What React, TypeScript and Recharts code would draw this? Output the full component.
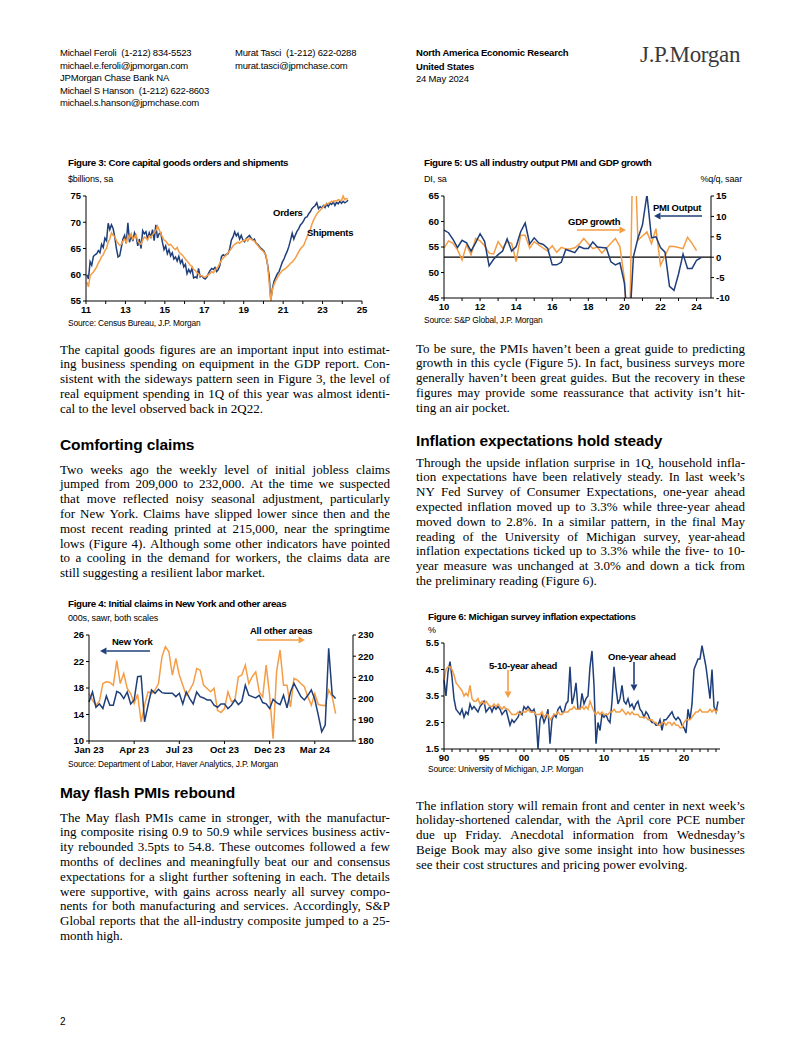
import React from "react";
import { LineChart, Line, XAxis, YAxis, ReferenceLine } from "recharts";

const BLUE = "#1f3f7a";
const ORANGE = "#f59d45";
const SANS = "'Liberation Sans', Arial, sans-serif";
const SERIF = "'Liberation Serif', 'Times New Roman', serif";

// ---- Figure 3: core capital goods, monthly from Jan 2011 ($bn) ----
const orders = [
  60.0, 59.2, 62.5, 61.8, 63.5, 63.8, 64.0, 64.6, 64.2, 65.8, 65.2, 67.0, // 2011
  66.5, 69.8, 68.6, 69.5, 68.8, 67.2, 65.0, 63.4, 63.6, 65.2, 66.8, 67.5, // 2012
  66.0, 69.9, 66.2, 67.5, 66.4, 68.0, 67.3, 65.5, 66.8, 65.0, 68.4, 67.8, // 2013
  68.2, 66.8, 68.0, 67.2, 68.6, 66.5, 69.5, 67.0, 67.8, 68.0, 66.2, 64.8, // 2014
  65.5, 64.0, 64.8, 63.6, 64.2, 63.0, 63.4, 62.6, 63.5, 62.2, 62.8, 61.5, // 2015
  62.0, 60.2, 61.0, 60.4, 61.2, 59.4, 59.6, 59.4, 61.2, 59.6, 59.8, 59.4, // 2016
  59.2, 59.5, 60.2, 60.8, 61.2, 61.0, 61.4, 60.6, 61.0, 61.8, 63.5, 63.8, // 2017
  63.6, 63.9, 64.0, 65.0, 66.6, 67.2, 68.2, 67.4, 67.9, 66.8, 67.5, 66.6, // 2018
  66.3, 66.9, 67.2, 67.5, 67.0, 66.6, 66.8, 66.0, 65.8, 65.4, 65.0, 64.8, // 2019
  64.4, 63.6, 62.0, 59.8, 55.2, 57.4, 58.8, 59.5, 60.2, 60.6, 61.5, 62.4, // 2020
  63.0, 63.8, 64.5, 65.4, 66.6, 67.9, 66.8, 67.6, 68.3, 68.8, 69.5, 69.8, // 2021
  70.3, 70.9, 71.0, 71.6, 72.0, 72.6, 72.9, 73.2, 73.7, 72.6, 73.0, 72.7, // 2022
  73.2, 72.8, 73.5, 73.0, 73.6, 73.4, 73.9, 73.2, 73.8, 73.5, 74.0, 73.6, // 2023
  74.0, 73.7, 73.9, 74.2, // 2024
];
const shipments = [
  58.6, 57.7, 59.8, 60.2, 60.5, 61.0, 61.5, 62.2, 62.8, 63.5, 63.8, 64.6,
  65.0, 66.2, 66.8, 68.0, 67.5, 67.3, 66.5, 66.0, 65.6, 65.8, 66.4, 66.8,
  66.2, 67.5, 67.0, 67.8, 66.8, 67.2, 67.6, 66.4, 66.0, 65.8, 66.6, 67.2,
  67.0, 66.6, 67.4, 67.2, 67.6, 68.0, 68.4, 69.3, 68.6, 67.8, 67.2, 66.6,
  66.4, 66.0, 65.6, 65.8, 65.4, 65.0, 64.8, 65.2, 64.4, 64.0, 63.8, 63.4,
  63.0, 62.6, 62.2, 61.8, 61.6, 61.0, 60.8, 60.4, 60.2, 59.8, 59.8, 59.6,
  59.5, 59.8, 60.0, 60.2, 60.6, 60.4, 60.8, 61.2, 61.6, 62.2, 62.8, 63.2,
  63.5, 63.8, 64.2, 64.6, 65.0, 65.5, 65.8, 66.0, 66.2, 66.0, 66.3, 66.5,
  66.5, 66.8, 66.4, 67.0, 66.8, 66.6, 66.4, 66.0, 65.6, 65.2, 64.8, 64.6,
  64.2, 63.8, 62.0, 58.5, 55.0, 57.2, 58.2, 58.9, 59.5, 60.0, 60.4, 60.8,
  61.0, 61.2, 61.5, 61.8, 62.2, 62.4, 62.8, 63.2, 63.8, 64.4, 64.9, 65.3,
  65.6, 66.4, 67.2, 68.0, 68.6, 69.6, 70.4, 71.0, 71.6, 72.0, 72.3, 72.6,
  73.0, 73.3, 73.5, 73.6, 73.8, 74.0, 73.9, 74.1, 74.0, 74.3, 74.2, 74.1,
  75.0, 74.3, 74.5, 74.4,
];
const capTicks = [2011, 2012, 2013, 2014, 2015, 2016, 2017, 2018, 2019, 2020, 2021, 2022, 2023, 2024, 2025];

// ---- Figure 5: PMI output (DI) and GDP growth (%q/q saar), quarterly from 2010Q1 ----
const pmi = [
  58.3, 57.8, 56.5, 54.9, // 2010
  56.3, 55.8, 54.2, 55.8, // 2011
  57.6, 56.1, 51.3, 52.6, // 2012
  53.5, 54.2, 56.6, 54.2, // 2013
  55.1, 58.0, 59.7, 55.6, // 2014
  56.8, 55.8, 55.5, 54.7, // 2015
  51.5, 51.5, 52.0, 54.5, // 2016
  54.2, 53.9, 55.1, 54.7, // 2017
  54.7, 56.0, 55.0, 54.9, // 2018
  54.8, 52.1, 51.5, 51.9, // 2019
  47.9, 37.3, 53.1, 56.7, // 2020
  59.3, 65.3, 56.8, 57.0, // 2021
  54.9, 54.0, 47.3, 46.5, // 2022
  49.7, 53.6, 50.8, 50.8, // 2023
  52.4, 52.9, // 2024
];
const gdp = [
  2.2, 4.0, 3.4, 1.8,
  -0.7, 3.0, 0.6, 4.6,
  4.0, 2.8, 1.0, 0.8,
  3.8, 2.2, 3.8, 3.4,
  -1.1, 5.4, 5.4, 2.2,
  3.8, 3.0, 2.2, 1.5,
  2.8, 1.2, 2.4, 2.0,
  2.0, 2.3, 3.2, 4.6,
  3.3, 2.1, 2.5, 1.0,
  2.2, 3.4, 4.6, 2.6,
  -5.3, -28.0, 34.8, 4.2,
  5.2, 6.2, 3.3, 7.0,
  -2.0, 0.3, 2.7, 2.6,
  2.4, 2.1, 4.9, 3.4,
  1.6,
];
const pmiTicks = [2010, 2011, 2012, 2013, 2014, 2015, 2016, 2017, 2018, 2019, 2020, 2021, 2022, 2023, 2024];

// ---- Figure 4: initial claims, weekly from early Jan 2023 (000s) ----
const newYork = [
  15.9, 17.4, 15.1, 15.6, 14.9, 16.8, 15.4, 15.4, 17.5, 17.2,
  16.4, 17.4, 15.6, 16.2, 19.7, 19.8, 12.9, 15.4, 17.7, 17.2,
  17.8, 17.3, 17.2, 17.2, 17.2, 16.7, 17.2, 15.6, 17.4, 16.4,
  15.6, 17.4, 16.7, 16.5, 16.2, 16.2, 15.4, 15.1, 15.6, 15.6,
  14.9, 15.4, 16.2, 15.5, 16.0, 18.4, 16.9, 16.7, 16.5, 16.9,
  15.8, 15.6, 14.9, 16.3, 15.8, 15.5, 16.9, 15.0, 17.4, 18.7,
  17.7, 16.7, 16.2, 16.9, 17.7, 16.3, 13.9, 11.4, 12.4, 24.0,
  17.0, 16.4,
];
const otherAreas = [
  202.4, 199.2, 196.9, 198.8, 207.1, 207.9, 207.6, 206.3, 217.9, 207.1,
  211.9, 204.8, 202.4, 197.7, 202.0, 189.0, 196.9, 203.2, 202.4, 204.0,
  207.1, 219.7, 224.5, 222.1, 211.1, 219.0, 211.1, 206.3, 201.6, 204.0,
  207.1, 214.2, 213.4, 206.3, 204.8, 203.2, 204.8, 194.5, 193.4, 195.3,
  203.2, 198.5, 199.2, 210.3, 211.1, 215.8, 207.1, 210.3, 212.6, 203.2,
  200.8, 215.8, 201.6, 181.1, 212.6, 222.9, 206.3, 206.3, 196.1, 209.5,
  208.7, 207.1, 205.6, 200.8, 196.9, 202.4, 197.2, 196.9, 196.6, 204.0,
  201.0, 192.9,
];
const claimTicks = [0, 13, 26, 39, 52, 65];
const claimTickLabels = ["Jan 23", "Apr 23", "Jul 23", "Oct 23", "Dec 23", "Mar 24"];

// ---- Figure 6: Michigan inflation expectations (%), quarterly from 1990Q1 ----
const oneYear = [
  4.1, 3.5, 4.4, 4.8, 4.2, 3.4, 3.0, 2.9, 2.8, 3.0, 2.7, 2.9, // 90-92
  2.8, 3.2, 3.0, 3.1, 3.0, 2.9, 3.1, 3.2, 3.3, 2.9, 3.0, 3.1, // 93-95
  2.9, 3.1, 3.0, 3.1, 3.0, 2.8, 2.9, 3.0, 2.7, 2.4, 2.6, 2.5, // 96-98
  2.6, 2.7, 2.9, 2.8, 3.1, 3.0, 3.1, 3.0, 2.9, 3.0, 2.7, 1.5, // 99-01
  2.6, 2.8, 2.5, 2.7, 3.0, 1.7, 2.6, 2.8, 2.7, 3.0, 3.1, 2.9, // 02-04
  2.9, 3.2, 3.3, 4.6, 3.2, 3.5, 4.0, 3.0, 3.0, 3.6, 3.2, 3.4, // 05-07
  3.5, 4.6, 5.2, 3.9, 1.7, 2.5, 2.2, 2.8, 2.7, 2.8, 2.6, 2.5, // 08-10
  3.3, 4.6, 3.8, 3.2, 3.4, 3.9, 3.3, 3.2, 3.4, 3.1, 3.2, 3.0, // 11-13
  3.2, 3.3, 3.0, 2.9, 2.7, 2.9, 2.8, 2.6, 2.5, 2.5, 2.4, 2.4, // 14-16
  2.6, 2.2, 2.6, 2.6, 2.7, 2.8, 2.9, 2.7, 2.6, 2.7, 2.6, 2.4, // 17-19
  2.3, 2.1, 3.0, 2.6, 3.2, 4.5, 4.7, 4.9, 4.9, 5.4, 5.0, 4.6, // 20-22
  4.0, 3.4, 4.5, 3.1, 2.9, 3.3, // 23-24
];
const fiveTenYear = [
  4.1, 4.5, 4.6, 4.6, 4.5, 4.3, 4.0, 3.9, 3.8, 3.7, 3.5, 3.6,
  3.5, 3.9, 3.4, 3.3, 3.3, 3.4, 3.2, 3.3, 3.2, 3.3, 3.2, 3.1,
  3.1, 3.2, 3.1, 3.2, 3.1, 3.0, 3.1, 3.0, 3.0, 2.9, 2.8, 2.8,
  2.8, 2.9, 2.8, 2.9, 2.9, 2.9, 3.0, 2.9, 2.9, 2.9, 2.8, 2.8,
  2.8, 2.9, 2.7, 2.8, 2.8, 2.6, 2.7, 2.8, 2.8, 2.9, 2.8, 2.8,
  2.9, 2.9, 2.9, 3.0, 3.0, 3.1, 3.0, 3.0, 3.0, 3.1, 3.0, 3.1,
  3.0, 3.3, 3.1, 2.9, 2.8, 2.9, 2.8, 2.9, 2.8, 2.8, 2.8, 2.9,
  2.9, 3.0, 2.9, 2.9, 2.9, 3.0, 2.9, 2.8, 2.9, 2.8, 2.9, 2.8,
  2.8, 2.8, 2.7, 2.7, 2.7, 2.7, 2.6, 2.6, 2.6, 2.5, 2.5, 2.4,
  2.4, 2.5, 2.5, 2.4, 2.5, 2.5, 2.4, 2.5, 2.4, 2.4, 2.3, 2.3,
  2.5, 2.6, 2.6, 2.6, 2.7, 2.8, 2.9, 2.9, 3.0, 2.9, 2.9, 2.9,
  2.9, 3.0, 2.9, 3.0, 2.9, 3.0,
];
const michTicks = Array.from({ length: 35 }, (_, i) => 1990 + i);

const capData = orders.map((v, i) => ({ x: 2011 + (i + 0.5) / 12, orders: v, shipments: shipments[i] }));
const pmiData = pmi.map((v, i) => ({ x: 2010 + i / 4, pmi: v, gdp: gdp[i] }));
const claimData = newYork.map((v, i) => ({ w: i, ny: v, other: otherAreas[i] }));
const michData = oneYear.map((v, i) => ({ x: 1990 + i / 4, one: v, five: fiveTenYear[i] }));

const tick = { fill: "#000", fontSize: 9.5, fontWeight: 700, fontFamily: SANS };
const LH = 14.8;

function T({ x, y, size = 9.5, bold = false, ls = -0.2, right = false, color = "#000", font = SANS, children }: any) {
  return (
    <div
      style={{
        position: "absolute",
        left: x,
        top: y - size * 0.6,
        fontSize: size,
        lineHeight: `${size * 1.2}px`,
        fontWeight: bold ? 700 : 400,
        fontFamily: font,
        letterSpacing: ls,
        whiteSpace: "pre",
        color,
        transform: right ? "translateX(-100%)" : undefined,
      }}
    >
      {children}
    </div>
  );
}

function Para({ x, y, w, lines }: { x: number; y: number; w: number; lines: string[] }) {
  return (
    <div style={{ position: "absolute", left: x, top: y - LH / 2, width: w, fontFamily: SERIF, fontSize: 13, lineHeight: `${LH}px`, color: "#000" }}>
      {lines.map((ln, i) =>
        i < lines.length - 1 ? (
          <div key={i} style={{ display: "flex", justifyContent: "space-between", whiteSpace: "nowrap" }}>
            {ln.split(" ").map((wd, j) => (
              <span key={j}>{wd}</span>
            ))}
          </div>
        ) : (
          <div key={i} style={{ whiteSpace: "nowrap" }}>{ln}</div>
        )
      )}
    </div>
  );
}

function Heading({ x, y, children }: any) {
  return <T x={x} y={y} size={15.5} bold ls={-0.1}>{children}</T>;
}

function Arrow({ x1, y1, x2, y2, color }: any) {
  const a = Math.atan2(y2 - y1, x2 - x1);
  const L = 6.5;
  const W = 3.5;
  const bx = x2 - L * Math.cos(a);
  const by = y2 - L * Math.sin(a);
  const pts = `${x2},${y2} ${bx - W * Math.sin(a)},${by + W * Math.cos(a)} ${bx + W * Math.sin(a)},${by - W * Math.cos(a)}`;
  return (
    <g>
      <line x1={x1} y1={y1} x2={bx} y2={by} stroke={color} strokeWidth={1.6} />
      <polygon points={pts} fill={color} />
    </g>
  );
}

const FigTitle = ({ x, y, children }: any) => <T x={x} y={y} size={9.8} bold ls={-0.35}>{children}</T>;
const Sub = ({ x, y, right, children }: any) => <T x={x} y={y} size={9} ls={-0.15} right={right}>{children}</T>;
const Src = ({ x, y, children }: any) => <T x={x} y={y} size={8.4} ls={-0.15}>{children}</T>;
const Note = ({ x, y, children }: any) => <T x={x} y={y} size={9.5} bold ls={-0.25}>{children}</T>;

export default function App() {
  return (
    <div style={{ position: "absolute", left: 0, top: 0, width: 802, height: 1037, background: "#fff", overflow: "hidden" }}>
      {/* header */}
      <T x={60} y={53}>{"Michael Feroli  (1-212) 834-5523"}</T>
      <T x={60} y={66}>michael.e.feroli@jpmorgan.com</T>
      <T x={60} y={78}>JPMorgan Chase Bank NA</T>
      <T x={60} y={91}>{"Michael S Hanson  (1-212) 622-8603"}</T>
      <T x={60} y={103}>michael.s.hanson@jpmchase.com</T>
      <T x={235} y={53}>{"Murat Tasci  (1-212) 622-0288"}</T>
      <T x={235} y={66}>murat.tasci@jpmchase.com</T>
      <T x={416} y={53} bold>North America Economic Research</T>
      <T x={416} y={67} bold>United States</T>
      <T x={416} y={79}>24 May 2024</T>
      <T x={640} y={55} size={23} font={SERIF} ls={-0.3} color="#3a3a3a">J.P.Morgan</T>

      {/* Figure 3 */}
      <FigTitle x={68} y={163}>Figure 3: Core capital goods orders and shipments</FigTitle>
      <Sub x={68} y={179}>$billions, sa</Sub>
      <div style={{ position: "absolute", left: 40, top: 186 }}>
        <LineChart width={340} height={135} data={capData} margin={{ top: 10, right: 18, bottom: 0, left: 0 }}>
          <XAxis type="number" dataKey="x" domain={[2011, 2025]} ticks={capTicks} interval={0} height={20} tickSize={3} stroke="#000"
            tick={tick} tickFormatter={(v: number) => (v % 2 === 1 ? String(v).slice(2) : "")} />
          <YAxis domain={[55, 75]} ticks={[55, 60, 65, 70, 75]} width={46} tickSize={3} stroke="#000" tick={tick} interval={0} />
          <Line type="linear" dataKey="orders" stroke={BLUE} strokeWidth={1.5} dot={false} isAnimationActive={false} />
          <Line type="linear" dataKey="shipments" stroke={ORANGE} strokeWidth={1.5} dot={false} isAnimationActive={false} />
        </LineChart>
      </div>
      <Note x={273} y={213}>Orders</Note>
      <Note x={307} y={233}>Shipments</Note>
      <Src x={68} y={323}>Source: Census Bureau, J.P. Morgan</Src>

      {/* Figure 5 */}
      <FigTitle x={424} y={163}>Figure 5: US all industry output PMI and GDP growth</FigTitle>
      <Sub x={424} y={179}>DI, sa</Sub>
      <Sub x={742} y={179} right>%q/q, saar</Sub>
      <div style={{ position: "absolute", left: 415, top: 186 }}>
        <LineChart width={326} height={132} data={pmiData} margin={{ top: 10, right: 0, bottom: 0, left: 0 }}>
          <XAxis type="number" dataKey="x" domain={[2010, 2024.8]} ticks={pmiTicks} interval={0} height={20} tickSize={3} stroke="#000"
            tick={tick} tickFormatter={(v: number) => (v % 2 === 0 ? String(v).slice(2) : "")} />
          <YAxis yAxisId="l" domain={[45, 65]} ticks={[45, 50, 55, 60, 65]} width={29} tickSize={3} stroke="#000" tick={tick} allowDataOverflow interval={0} />
          <YAxis yAxisId="r" orientation="right" domain={[-10, 15]} ticks={[-10, -5, 0, 5, 10, 15]} width={30} tickSize={3} stroke="#000" tick={tick} allowDataOverflow interval={0} />
          <ReferenceLine yAxisId="l" y={53} stroke="#000" strokeWidth={1.2} />
          <Line yAxisId="r" type="linear" dataKey="gdp" stroke={ORANGE} strokeWidth={1.5} dot={false} isAnimationActive={false} />
          <Line yAxisId="l" type="linear" dataKey="pmi" stroke={BLUE} strokeWidth={1.5} dot={false} isAnimationActive={false} />
        </LineChart>
      </div>
      <Note x={568} y={222}>GDP growth</Note>
      <Note x={653} y={208}>PMI Output</Note>
      <Src x={424} y={320}>Source: S&P Global, J.P. Morgan</Src>

      {/* left text */}
      <Para x={60} y={350} w={330} lines={[
        "The capital goods figures are an important input into estimat-",
        "ing business spending on equipment in the GDP report. Con-",
        "sistent with the sideways pattern seen in Figure 3, the level of",
        "real equipment spending in 1Q of this year was almost identi-",
        "cal to the level observed back in 2Q22.",
      ]} />
      <Heading x={60} y={445}>Comforting claims</Heading>
      <Para x={60} y={470} w={330} lines={[
        "Two weeks ago the weekly level of initial jobless claims",
        "jumped from 209,000 to 232,000. At the time we suspected",
        "that move reflected noisy seasonal adjustment, particularly",
        "for New York. Claims have slipped lower since then and the",
        "most recent reading printed at 215,000, near the springtime",
        "lows (Figure 4). Although some other indicators have pointed",
        "to a cooling in the demand for workers, the claims data are",
        "still suggesting a resilient labor market.",
      ]} />

      {/* Figure 4 */}
      <FigTitle x={68} y={604}>Figure 4: Initial claims in New York and other areas</FigTitle>
      <Sub x={68} y={618}>000s, sawr, both scales</Sub>
      <div style={{ position: "absolute", left: 60, top: 625 }}>
        <LineChart width={323} height={136} data={claimData} margin={{ top: 10, right: 0, bottom: 0, left: 0 }}>
          <XAxis type="number" dataKey="w" domain={[0, 76]} ticks={claimTicks} interval={0} height={20} tickSize={3} stroke="#000"
            tick={tick} tickFormatter={(v: number) => claimTickLabels[claimTicks.indexOf(v)] ?? ""} />
          <YAxis yAxisId="l" domain={[10, 26]} ticks={[10, 14, 18, 22, 26]} width={29} tickSize={3} stroke="#000" tick={tick} interval={0} />
          <YAxis yAxisId="r" orientation="right" domain={[180, 230]} ticks={[180, 190, 200, 210, 220, 230]} width={30} tickSize={3} stroke="#000" tick={tick} interval={0} />
          <Line yAxisId="r" type="linear" dataKey="other" stroke={ORANGE} strokeWidth={1.5} dot={false} isAnimationActive={false} />
          <Line yAxisId="l" type="linear" dataKey="ny" stroke={BLUE} strokeWidth={1.5} dot={false} isAnimationActive={false} />
        </LineChart>
      </div>
      <Note x={112} y={642}>New York</Note>
      <Note x={250} y={631}>All other areas</Note>
      <Src x={68} y={764}>Source: Department of Labor, Haver Analytics, J.P. Morgan</Src>

      <Heading x={60} y={793}>May flash PMIs rebound</Heading>
      <Para x={60} y={818} w={330} lines={[
        "The May flash PMIs came in stronger, with the manufactur-",
        "ing composite rising 0.9 to 50.9 while services business activ-",
        "ity rebounded 3.5pts to 54.8. These outcomes followed a few",
        "months of declines and meaningfully beat our and consensus",
        "expectations for a slight further softening in each. The details",
        "were supportive, with gains across nearly all survey compo-",
        "nents for both manufacturing and services. Accordingly, S&P",
        "Global reports that the all-industry composite jumped to a 25-",
        "month high.",
      ]} />

      {/* right text */}
      <Para x={416} y={349} w={329} lines={[
        "To be sure, the PMIs haven\u2019t been a great guide to predicting",
        "growth in this cycle (Figure 5). In fact, business surveys more",
        "generally haven\u2019t been great guides. But the recovery in these",
        "figures may provide some reassurance that activity isn\u2019t hit-",
        "ting an air pocket.",
      ]} />
      <Heading x={416} y={441}>Inflation expectations hold steady</Heading>
      <Para x={416} y={463} w={329} lines={[
        "Through the upside inflation surprise in 1Q, household infla-",
        "tion expectations have been relatively steady. In last week\u2019s",
        "NY Fed Survey of Consumer Expectations, one-year ahead",
        "expected inflation moved up to 3.3% while three-year ahead",
        "moved down to 2.8%. In a similar pattern, in the final May",
        "reading of the University of Michigan survey, year-ahead",
        "inflation expectations ticked up to 3.3% while the five- to 10-",
        "year measure was unchanged at 3.0% and down a tick from",
        "the preliminary reading (Figure 6).",
      ]} />

      {/* Figure 6 */}
      <FigTitle x={428} y={617}>Figure 6: Michigan survey inflation expectations</FigTitle>
      <Sub x={428} y={630}>%</Sub>
      <div style={{ position: "absolute", left: 410, top: 633 }}>
        <LineChart width={320} height={136} data={michData} margin={{ top: 10, right: 10, bottom: 0, left: 0 }}>
          <XAxis type="number" dataKey="x" domain={[1990, 2024.5]} ticks={michTicks} interval={0} height={20} tickSize={3} stroke="#000"
            tick={tick} tickFormatter={(v: number) => (v % 5 === 0 ? String(v).slice(2) : "")} />
          <YAxis domain={[1.5, 5.5]} ticks={[1.5, 2.5, 3.5, 4.5, 5.5]} width={34} tickSize={3} stroke="#000" tick={tick}
            tickFormatter={(v: number) => v.toFixed(1)} interval={0} />
          <Line type="linear" dataKey="one" stroke={BLUE} strokeWidth={1.5} dot={false} isAnimationActive={false} />
          <Line type="linear" dataKey="five" stroke={ORANGE} strokeWidth={1.5} dot={false} isAnimationActive={false} />
        </LineChart>
      </div>
      <Note x={489} y={666}>5-10-year ahead</Note>
      <Note x={608} y={657}>One-year ahead</Note>
      <Src x={428} y={769}>Source: University of Michigan, J.P. Morgan</Src>

      <Para x={416} y={806} w={329} lines={[
        "The inflation story will remain front and center in next week\u2019s",
        "holiday-shortened calendar, with the April core PCE number",
        "due up Friday. Anecdotal information from Wednesday\u2019s",
        "Beige Book may also give some insight into how businesses",
        "see their cost structures and pricing power evolving.",
      ]} />

      <T x={60} y={1022} size={10}>2</T>

      {/* annotation arrows */}
      <svg width={802} height={1037} style={{ position: "absolute", left: 0, top: 0, pointerEvents: "none" }}>
        <Arrow x1={150} y1={651} x2={100} y2={651} color={BLUE} />
        <Arrow x1={257} y1={640} x2={305} y2={640} color={ORANGE} />
        <Arrow x1={577} y1={230} x2={626} y2={230} color={ORANGE} />
        <Arrow x1={702} y1={216} x2={654} y2={216} color={BLUE} />
        <Arrow x1={508} y1={670} x2={508} y2={698} color={ORANGE} />
        <Arrow x1={634} y1={662} x2={634} y2={691} color={BLUE} />
      </svg>
    </div>
  );
}
